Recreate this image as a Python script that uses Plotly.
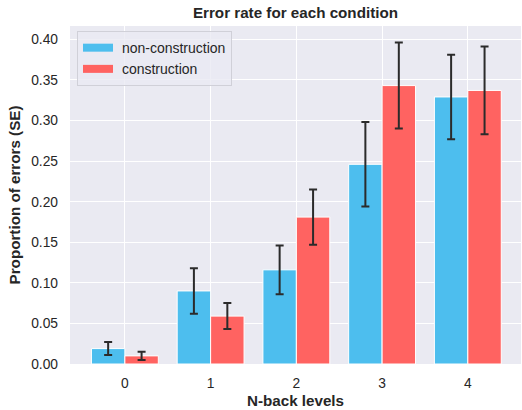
import plotly.graph_objects as go

levels = ["0", "1", "2", "3", "4"]
series_names = ["non-construction", "construction"]
non_construction = [0.019, 0.090, 0.116, 0.246, 0.329]
non_construction_se = [0.008, 0.028, 0.030, 0.052, 0.052]
construction = [0.010, 0.059, 0.181, 0.343, 0.337]
construction_se = [0.005, 0.016, 0.034, 0.053, 0.054]

FONT = "Liberation Sans, Arial, sans-serif"
TXT = "#262626"
BLUE = "#4DBEEE"
RED = "#FF6361"

fig = go.Figure()
err_style = dict(type="data", color="#2b2b2b", thickness=2, width=4)
fig.add_trace(go.Bar(
    x=[0, 1, 2, 3, 4], y=non_construction, name=series_names[0], showlegend=False,
    marker=dict(color=BLUE, line=dict(color="white", width=1)),
    error_y=dict(array=non_construction_se, **err_style),
))
fig.add_trace(go.Bar(
    x=[0, 1, 2, 3, 4], y=construction, name=series_names[1], showlegend=False,
    marker=dict(color=RED, line=dict(color="white", width=1)),
    error_y=dict(array=construction_se, **err_style),
))
# legend entries with wide rectangular swatches
for name, col in zip(series_names, [BLUE, RED]):
    fig.add_trace(go.Scatter(x=[None], y=[None], mode="lines", name="\u00a0" + name,
                             line=dict(color=col, width=8)))

fig.update_layout(
    width=522, height=410,
    margin=dict(l=70, r=1, t=26, b=46, autoexpand=False),
    barmode="group", bargap=0.22, bargroupgap=0,
    plot_bgcolor="#EAEAF2", paper_bgcolor="white",
    font=dict(family=FONT, color=TXT, size=13.8),
    title=dict(text="<b>Error rate for each condition</b>", x=0.566, xanchor="center",
               y=0.968, yanchor="middle", font=dict(size=15.2, color=TXT)),
    legend=dict(x=0.0155, y=0.985, xanchor="left", yanchor="top",
                bgcolor="rgba(234,234,242,0.8)", bordercolor="#D0D0D8", borderwidth=1,
                font=dict(size=14, color=TXT), itemwidth=30, tracegroupgap=0),
    xaxis=dict(
        tickmode="array", tickvals=[0, 1, 2, 3, 4], ticktext=levels,
        range=[-0.64, 4.62], showgrid=True, gridcolor="white", gridwidth=1,
        zeroline=False, ticks="", ticklabelstandoff=9, automargin=False,
        title=dict(text="<b>N-back levels</b>", font=dict(size=15.2, color=TXT), standoff=5),
    ),
    yaxis=dict(
        range=[0, 0.4164], tickvals=[0, 0.05, 0.1, 0.15, 0.2, 0.25, 0.3, 0.35, 0.4],
        tickformat=".2f", showgrid=True, gridcolor="white", gridwidth=1,
        zeroline=False, ticks="", ticklabelstandoff=11, automargin=False,
        title=dict(text="<b>Proportion of errors (SE)</b>", font=dict(size=15.2, color=TXT), standoff=6),
    ),
)

fig.write_html("out.html")
